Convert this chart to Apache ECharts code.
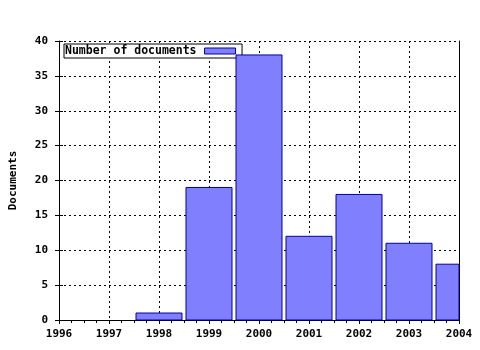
<!DOCTYPE html>
<html><head><meta charset="utf-8">
<script src="https://cdn.jsdelivr.net/npm/echarts@6/dist/echarts.min.js"></script>
<style>html,body{margin:0;padding:0;background:#fff}#c{width:480px;height:350px}</style>
</head><body><div id="c"></div>
<script>
const years = [1996, 1997, 1998, 1999, 2000, 2001, 2002, 2003, 2004];
const documents = [0, 0, 1, 19, 38, 12, 18, 11, 8];
const seriesName = 'Number of documents';
const yTitle = 'Documents';

const font = 'DejaVu Sans Mono';
const chart = echarts.init(document.getElementById('c'), null, {renderer: 'canvas'});
const dotted = {color: '#000', width: 1, type: [2, 3]};
const barFill = '#8080ff', barEdge = '#0000a0';
chart.setOption({
  animation: false,
  backgroundColor: '#fff',
  grid: {left: 59, right: 21, top: 41, bottom: 30, outerBoundsMode: 'none', containLabel: false},
  legend: {
    data: [{name: seriesName, itemStyle: {color: barFill, borderColor: barEdge, borderWidth: 1}}],
    left: 64, top: 44, align: 'right', z: 1,
    padding: [1, 6, 1, 1], borderColor: '#000', borderWidth: 1, backgroundColor: '#fff',
    itemWidth: 31, itemHeight: 6, icon: 'rect',
    textStyle: {fontFamily: font, fontSize: 11.5, fontWeight: 'bold', color: '#000', padding: [0, 3, 0, 0]}
  },
  xAxis: [{
    type: 'value', min: years[0], max: years[years.length - 1], interval: 1,
    axisLine: {lineStyle: {color: '#000', width: 1}},
    axisTick: {show: true, inside: false, length: 4, lineStyle: {color: '#000'}},
    minorTick: {show: true, splitNumber: 4, length: 3, lineStyle: {color: '#000'}},
    axisLabel: {fontFamily: font, fontSize: 11, fontWeight: 'bold', color: '#000', margin: 9, formatter: v => String(v)},
    splitLine: {show: true, lineStyle: dotted}
  }, {
    type: 'value', position: 'top', offset: 0, min: years[0], max: years[years.length - 1], interval: 1,
    axisLine: {show: true, lineStyle: {color: '#000', width: 1}},
    axisTick: {show: true, inside: true, length: 4, lineStyle: {color: '#000'}},
    minorTick: {show: true, splitNumber: 4, length: 3, lineStyle: {color: '#000'}},
    axisLabel: {show: false}, splitLine: {show: false}
  }],
  yAxis: [{
    type: 'value', position: 'left', offset: 0, min: 0, max: 40, interval: 5,
    name: yTitle, nameLocation: 'middle', nameGap: 40, nameRotate: 90,
    nameTextStyle: {fontFamily: font, fontSize: 11, fontWeight: 'bold', color: '#000'},
    axisLine: {show: true, lineStyle: {color: '#000', width: 1}},
    axisTick: {show: true, inside: false, length: 4, lineStyle: {color: '#000'}},
    axisLabel: {fontFamily: font, fontSize: 11, fontWeight: 'bold', color: '#000', margin: 11},
    splitLine: {show: true, lineStyle: dotted}
  }, {
    type: 'value', position: 'right', offset: 0, min: 0, max: 40, interval: 5,
    axisLine: {show: true, lineStyle: {color: '#000', width: 1}},
    axisTick: {show: false}, axisLabel: {show: false}, splitLine: {show: false}
  }, {
    type: 'value', position: 'left', offset: 0, min: 0, max: 40, interval: 5,
    axisLine: {show: false},
    axisTick: {show: true, inside: true, length: 4, lineStyle: {color: '#000'}},
    axisLabel: {show: false}, splitLine: {show: false}
  }],
  series: [{
    name: seriesName, type: 'custom', xAxisIndex: 0, yAxisIndex: 0, z: 3,
    itemStyle: {color: barFill, borderColor: barEdge, borderWidth: 1},
    encode: {x: 0, y: 1},
    data: years.map((y, i) => [y, documents[i] === 0 ? null : documents[i]]),
    renderItem: function (params, api) {
      const v = api.value(1);
      if (v == null || isNaN(v)) return null;
      const x = api.value(0);
      const top = api.coord([x, v]);
      const base = api.coord([x, 0]);
      const w = api.size([1, 0])[0] * 0.92;
      const shape = echarts.graphic.clipRectByRect(
        {x: top[0] - w / 2, y: top[1], width: w, height: base[1] - top[1]},
        {x: params.coordSys.x, y: params.coordSys.y, width: params.coordSys.width, height: params.coordSys.height}
      );
      if (!shape) return null;
      return {type: 'rect', shape: shape, style: {fill: barFill, stroke: barEdge, lineWidth: 1}};
    }
  }]
});
</script></body></html>
